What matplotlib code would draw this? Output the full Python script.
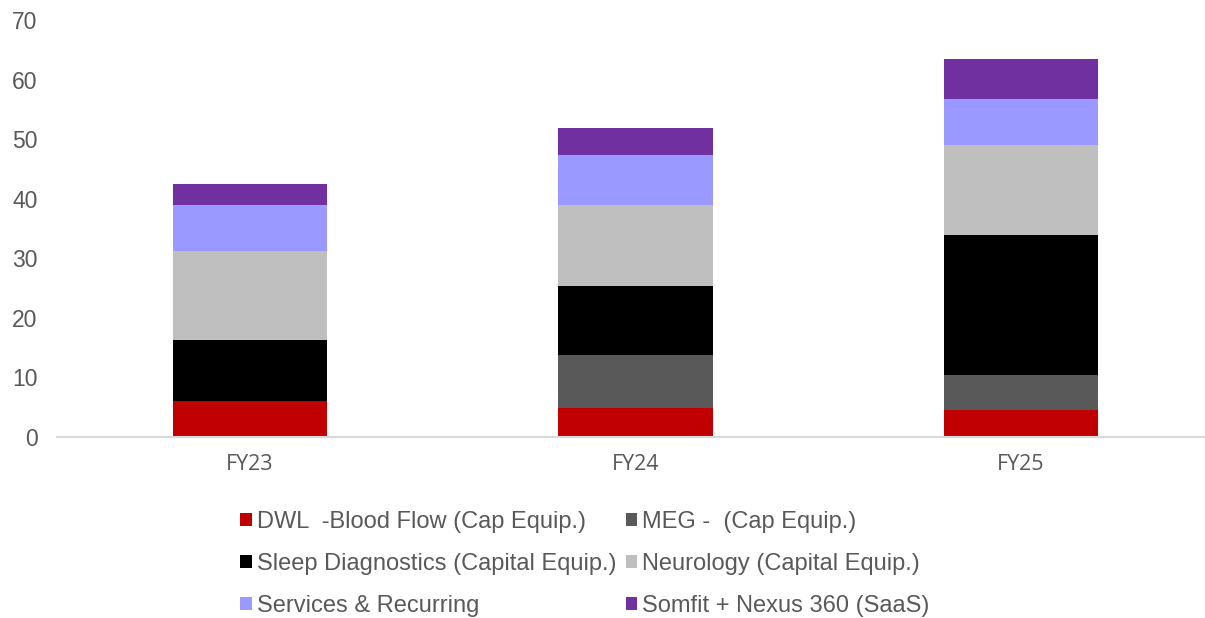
import matplotlib
matplotlib.use("Agg")
import matplotlib.pyplot as plt
from matplotlib.patches import Patch
import numpy as np

years = ["FY23", "FY24", "FY25"]
series_names = [
    "DWL  -Blood Flow (Cap Equip.)",
    "MEG -  (Cap Equip.)",
    "Sleep Diagnostics (Capital Equip.)",
    "Neurology (Capital Equip.)",
    "Services & Recurring",
    "Somfit + Nexus 360 (SaaS)",
]
dwl = [6.1, 4.8, 4.5]
meg = [0.0, 9.0, 5.9]
sleep = [10.2, 11.5, 23.5]
neurology = [15.0, 13.6, 15.1]
services = [7.7, 8.4, 7.7]
somfit = [3.5, 4.5, 6.7]
yticks = [0, 10, 20, 30, 40, 50, 60, 70]

colors = ["#C00000", "#595959", "#000000", "#BFBFBF", "#9999FF", "#7030A0"]
text_color = "#595959"

fig = plt.figure(figsize=(12.05, 6.18), dpi=100)
ax = fig.add_axes([57 / 1205, (618 - 437) / 618, 1 - 57 / 1205, 417 / 618])

x = np.arange(len(years))
bottom = np.zeros(len(years))
for vals, col in zip([dwl, meg, sleep, neurology, services, somfit], colors):
    ax.bar(x, vals, width=0.40, bottom=bottom, color=col, linewidth=0)
    bottom += np.array(vals)

ax.set_xlim(-0.5, 2.477)
ax.set_ylim(0, 70)
ax.set_yticks(yticks)
ax.set_yticklabels([str(t) for t in yticks], fontfamily="Liberation Sans",
                   fontsize=16.5, color=text_color)
ax.set_xticks(x)
ax.set_xticklabels(years, fontfamily="Open Sans", fontsize=15.5, color=text_color)
ax.tick_params(axis="y", length=0, pad=14)
ax.tick_params(axis="x", length=0, pad=12)

for side in ["top", "right", "left"]:
    ax.spines[side].set_visible(False)
ax.spines["bottom"].set_color("#D9D9D9")
ax.spines["bottom"].set_linewidth(1.5)

# legend filled row by row: two columns, three rows
order = [0, 2, 4, 1, 3, 5]
handles = [Patch(facecolor=colors[i], edgecolor="none") for i in order]
labels = [series_names[i] for i in order]
leg = fig.legend(handles, labels, loc="upper left",
                 bbox_to_anchor=(219 / 1205, 1 - 490 / 618), ncol=2,
                 frameon=False, handlelength=0.48, handleheight=0.48,
                 handletextpad=0.21, columnspacing=0.42, labelspacing=0.84,
                 prop={"family": "Liberation Sans", "size": 17})
for t in leg.get_texts():
    t.set_color(text_color)

fig.savefig("out.png", dpi=100)
